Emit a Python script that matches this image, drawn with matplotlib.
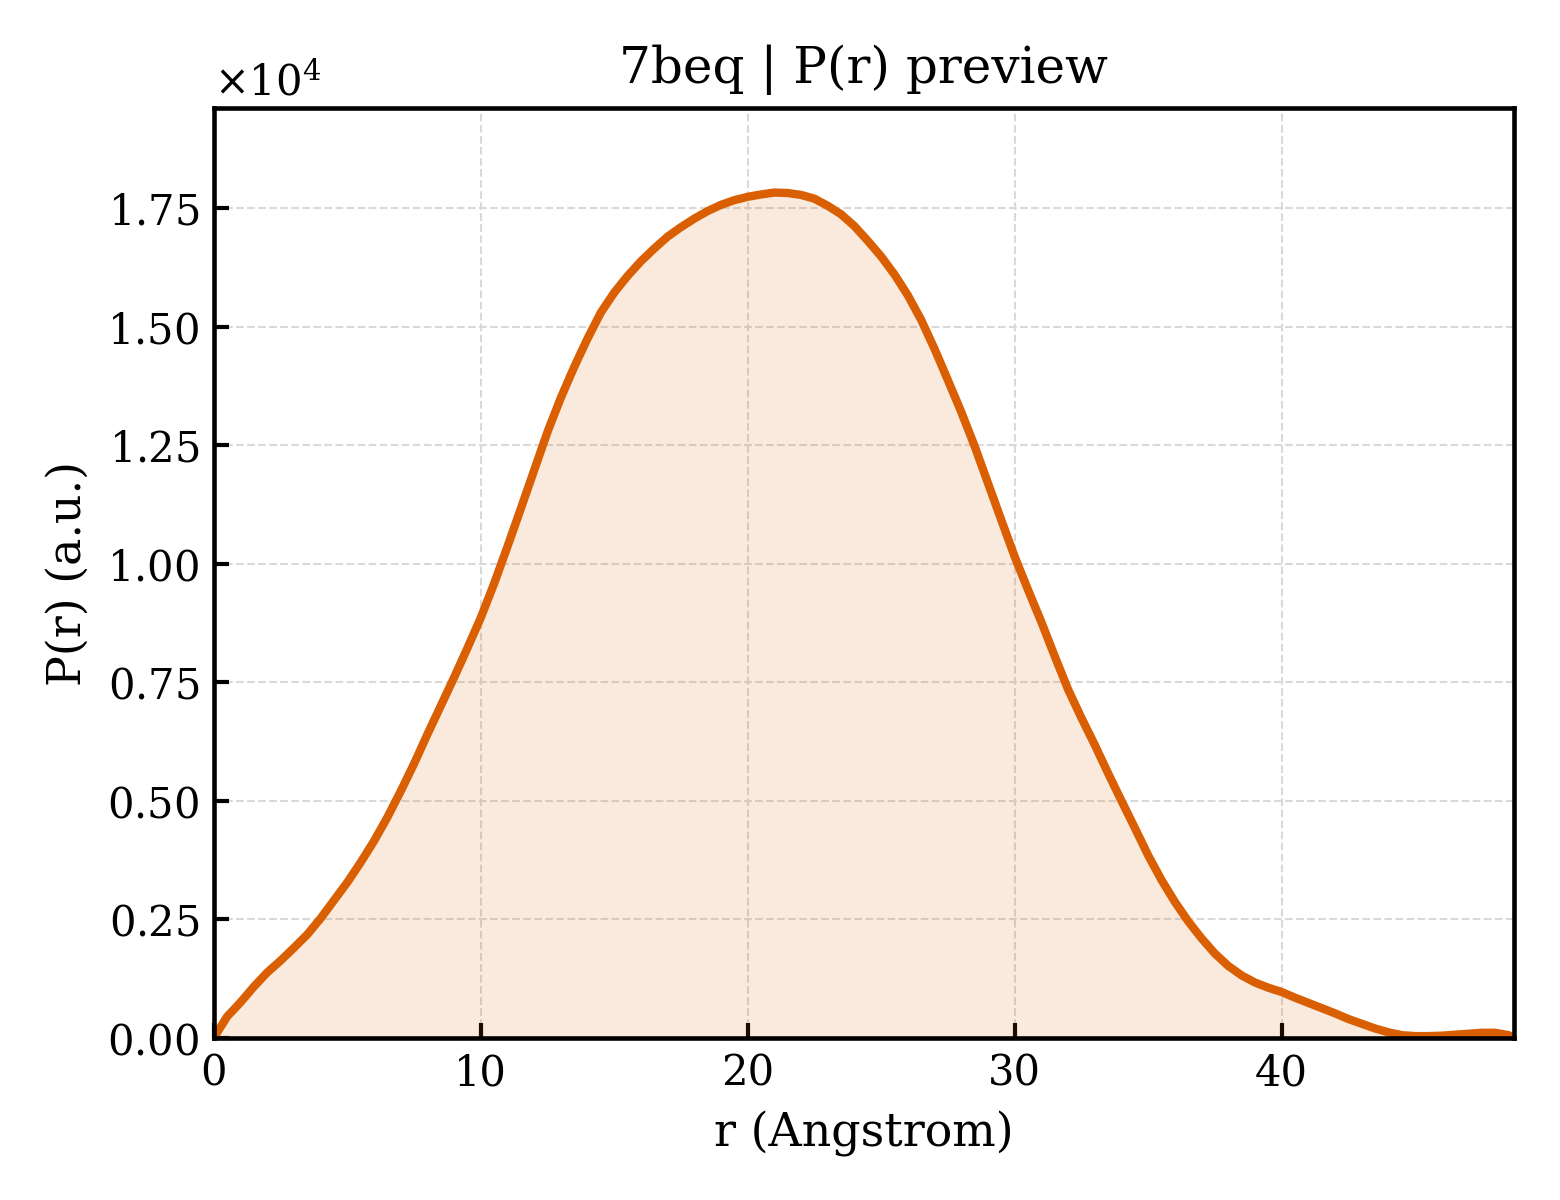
import numpy as np
import matplotlib
matplotlib.use("Agg")
import matplotlib.pyplot as plt
from matplotlib.ticker import MultipleLocator, ScalarFormatter

# P(r)
r = [0.0, 0.5, 1.0, 1.5, 2.0, 2.5, 3.0, 3.5, 4.0, 4.5,
     5.0, 5.5, 6.0, 6.5, 7.0, 7.5, 8.0, 8.5, 9.0, 9.5,
     10.0, 10.5, 11.0, 11.5, 12.0, 12.5, 13.0, 13.5, 14.0, 14.5,
     15.0, 15.5, 16.0, 16.5, 17.0, 17.5, 18.0, 18.5, 19.0, 19.5,
     20.0, 20.5, 21.0, 21.5, 22.0, 22.5, 23.0, 23.5, 24.0, 24.5,
     25.0, 25.5, 26.0, 26.5, 27.0, 27.5, 28.0, 28.5, 29.0, 29.5,
     30.0, 30.5, 31.0, 31.5, 32.0, 32.5, 33.0, 33.5, 34.0, 34.5,
     35.0, 35.5, 36.0, 36.5, 37.0, 37.5, 38.0, 38.5, 39.0, 39.5,
     40.0, 40.5, 41.0, 41.5, 42.0, 42.5, 43.0, 43.5, 44.0, 44.5,
     45.0, 45.5, 46.0, 46.5, 47.0, 47.5, 48.0, 48.5, 48.7]
pr = [0, 450, 750, 1080, 1380, 1630, 1900, 2180, 2520, 2900,
      3280, 3700, 4150, 4650, 5200, 5780, 6400, 7000, 7600, 8220,
      8860, 9580, 10360, 11160, 11970, 12780, 13500, 14150, 14750, 15300,
      15720, 16070, 16380, 16650, 16900, 17100, 17280, 17440, 17570, 17670,
      17740, 17790, 17830, 17820, 17780, 17700, 17550, 17370, 17120, 16810,
      16480, 16100, 15660, 15140, 14530, 13870, 13200, 12480, 11700, 10920,
      10150, 9450, 8770, 8050, 7350, 6750, 6180, 5580, 5000, 4430,
      3850, 3330, 2870, 2460, 2100, 1780, 1520, 1320, 1170, 1060,
      970, 850, 740, 630, 520, 400, 300, 200, 120, 60,
      40, 40, 50, 70, 90, 110, 110, 60, 0]

r = np.array(r)
pr = np.array(pr, dtype=float)

couleur = "#D95F02"

plt.rcParams["font.family"] = "DejaVu Serif"
plt.rcParams["mathtext.fontset"] = "dejavuserif"

fig = plt.figure(figsize=(5.2, 4.0), dpi=300)
ax = fig.add_axes([0.137, 0.135, 0.8335, 0.775])

ax.fill_between(r, pr, 0, color=couleur, alpha=0.13, linewidth=0)
ax.plot(r, pr, color=couleur, lw=2.0)

ax.set_xlim(0, r[-1])
ax.set_ylim(0, 1.1 * pr.max())
ax.xaxis.set_major_locator(MultipleLocator(10))
ax.yaxis.set_major_locator(MultipleLocator(2500))

fmt = ScalarFormatter(useMathText=True)
fmt.set_powerlimits((0, 0))
ax.yaxis.set_major_formatter(fmt)

ax.tick_params(direction="in", length=3.5, width=1.0, labelsize=10)
for s in ax.spines.values():
    s.set_linewidth(1.1)
ax.yaxis.get_offset_text().set_fontsize(10)

ax.grid(True, ls="--", lw=0.5, color="0.85")
ax.set_axisbelow(True)

ax.set_xlabel("r (Angstrom)", fontsize=11)
ax.set_ylabel("P(r) (a.u.)", fontsize=11)
ax.set_title("7beq | P(r) preview", fontsize=12)

fig.savefig("out.png", dpi=300)
